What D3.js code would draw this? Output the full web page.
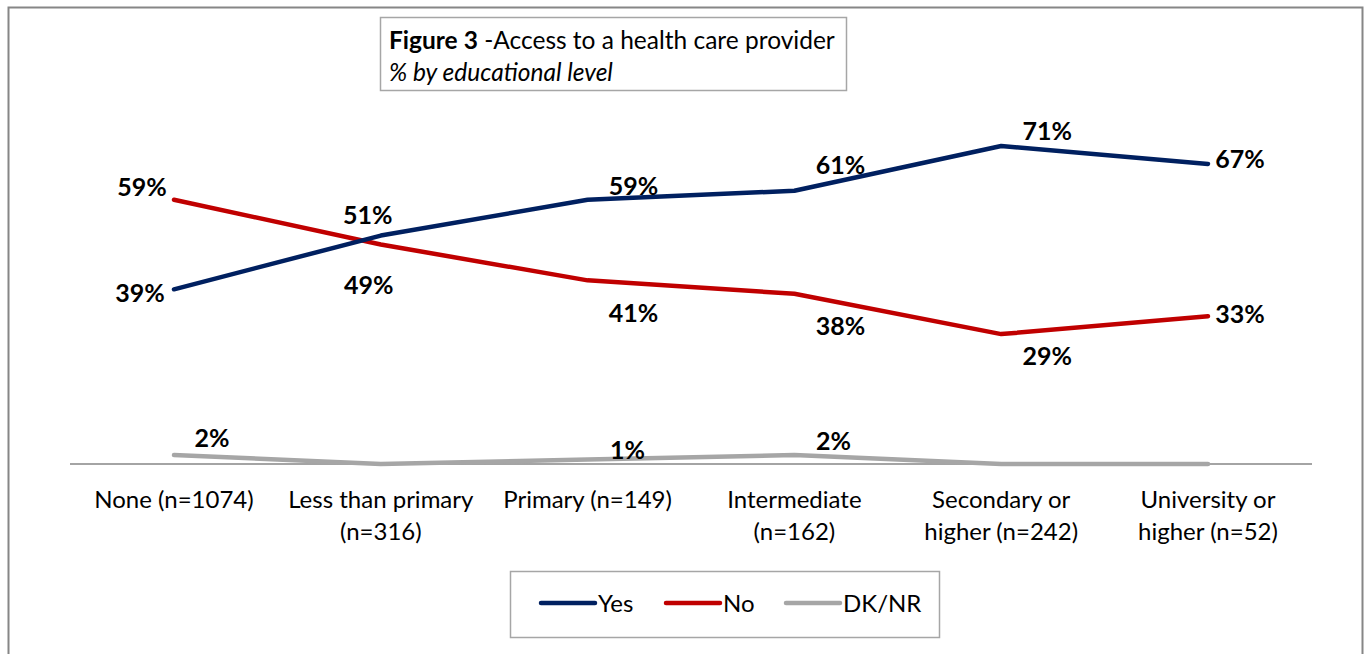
<!DOCTYPE html>
<html><head><meta charset="utf-8">
<script src="https://cdn.jsdelivr.net/npm/d3@7"></script>
<style>
html,body{margin:0;padding:0;background:#fff;overflow:hidden;}
svg{display:block;font-family:Lato,"Open Sans",sans-serif;}
</style></head>
<body>
<script>
const categories = [["None (n=1074)"],["Less than primary","(n=316)"],["Primary (n=149)"],["Intermediate","(n=162)"],["Secondary or","higher (n=242)"],["University or","higher (n=52)"]];
const yesValues = [39,51,59,61,71,67];
const noValues = [59,49,41,38,29,33];
const dkValues = [2,0,1,2,0,0];
const dkLabels = ["2%","","1%","2%","",""];
const seriesNames = ["Yes","No","DK/NR"];

const W=1366,H=654;
const svg=d3.select("body").append("svg").attr("width",W).attr("height",H);

// outer frame
svg.append("path").attr("d","M8.5,660 V7.5 H1362.5 V660").attr("fill","none").attr("stroke","#868686").attr("stroke-width",2);

const x=d3.scalePoint().domain(d3.range(categories.length)).range([174,1208]);
const y=d3.scaleLinear().domain([0,71]).range([464,146]);

// baseline axis
const axisG=svg.append("g").attr("transform","translate(0,"+y(0)+")");
axisG.append("line").attr("x1",70).attr("x2",1312).attr("stroke","#868686").attr("stroke-width",1.5);

// category labels
const catG=svg.append("g");
categories.forEach((lines,i)=>{
  const t=catG.append("text").attr("text-anchor","middle").attr("font-size",24).attr("fill","#000");
  lines.forEach((l,j)=>t.append("tspan").attr("x",x(i)).attr("y",508+j*32).text(l));
});

const line=d3.line().x((d,i)=>x(i)).y(d=>y(d));
const colors={"Yes":"#002060","No":"#C00000","DK/NR":"#A6A6A6"};
const seriesData=[["DK/NR",dkValues],["No",noValues],["Yes",yesValues]];
seriesData.forEach(([name,vals])=>{
  svg.append("path").datum(vals).attr("d",line).attr("fill","none")
    .attr("stroke",colors[name]).attr("stroke-width",4.5).attr("stroke-linecap","round").attr("stroke-linejoin","round");
});

// data label placement offsets (label centre relative to point)
const yesOff=[[-34,4],[-13,-21],[46,-14],[46,-26],[46,-15],[32,-5]];
const noOff=[[-32,-13],[-12,40],[46,33],[46,32],[46,22],[32,-2]];
const dkOff=[[38,-17],[0,0],[40,-10],[39,-14],[0,0],[0,0]];
function labels(vals,offs,txt){
  vals.forEach((v,i)=>{
    const t=txt?txt[i]:v+"%";
    if(!t) return;
    svg.append("text").attr("x",x(i)+offs[i][0]).attr("y",y(v)+offs[i][1]+9)
      .attr("text-anchor","middle").attr("font-size",25).attr("font-weight","bold").attr("fill","#000").text(t);
  });
}
labels(yesValues,yesOff);
labels(noValues,noOff);
labels(dkValues,dkOff,dkLabels);

// title box
svg.append("rect").attr("x",380.5).attr("y",17.5).attr("width",466).attr("height",73).attr("fill","#fff").attr("stroke","#A6A6A6").attr("stroke-width",1.5);
const tt=svg.append("text").attr("x",389).attr("y",49).attr("font-size",24.5).attr("fill","#000");
tt.append("tspan").attr("font-weight","bold").text("Figure 3");
tt.append("tspan").text(" -Access to a health care provider");
svg.append("text").attr("x",389).attr("y",81).attr("font-size",24.5).attr("font-style","italic").attr("fill","#000").text("% by educational level");

// legend
svg.append("rect").attr("x",510.5).attr("y",571.5).attr("width",429).attr("height",66).attr("fill","#fff").attr("stroke","#A6A6A6").attr("stroke-width",1.5);
const legX=[541,666,786];
seriesNames.forEach((n,i)=>{
  svg.append("line").attr("x1",legX[i]).attr("x2",legX[i]+54).attr("y1",603).attr("y2",603)
    .attr("stroke",colors[n]).attr("stroke-width",4.5).attr("stroke-linecap","round");
  svg.append("text").attr("x",legX[i]+57).attr("y",612).attr("font-size",24).attr("fill","#000").text(n);
});
</script>
</body></html>
